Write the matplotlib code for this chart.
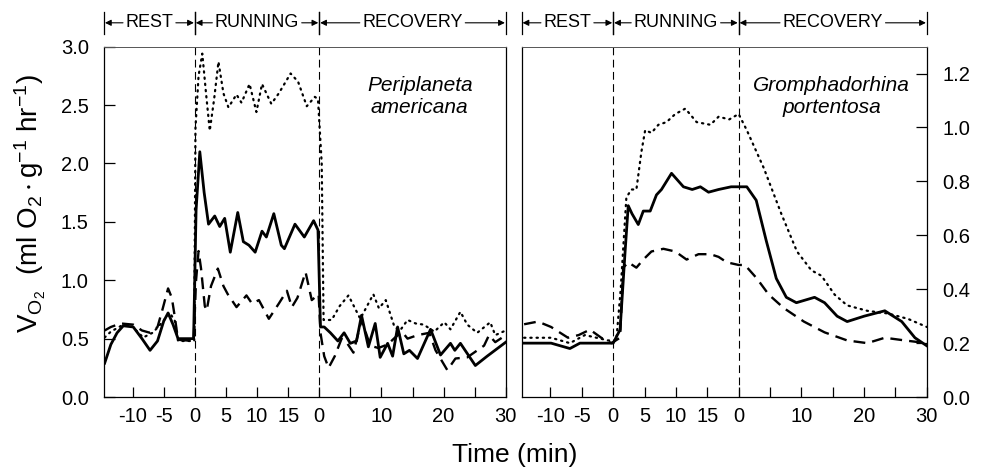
import numpy as np
import matplotlib
matplotlib.use("Agg")
from matplotlib import pyplot as plt
from matplotlib.transforms import blended_transform_factory

plt.rcParams['font.family'] = ['Liberation Sans', 'DejaVu Sans']
plt.rcParams['mathtext.fontset'] = 'custom'
plt.rcParams['mathtext.rm'] = 'Liberation Sans'
plt.rcParams['mathtext.it'] = 'Liberation Sans:italic'

# time axis is continuous: rest -> running (0-20) -> recovery (20-50)
tick_pos = [-10, -5, 0, 5, 10, 15, 20, 25, 30, 35, 40, 45, 50]
tick_lab = ['-10', '-5', '0', '5', '10', '15', '0', '', '10', '', '20', '', '30']

# Periplaneta americana
pa_solid_t = [-14.5, -13.5, -12.5, -11.5, -9.9, -8.5, -7.2, -6.0, -5.0, -4.3, -3.5, -2.7, -0.2,
              0.2, 0.8, 1.5, 2.2, 3.2, 4.0, 4.8, 5.7, 6.9, 7.8, 8.7, 9.7, 10.8, 11.5, 12.7,
              13.9, 14.4, 16.1, 17.6, 19.1, 19.8, 20.2, 20.8, 21.8, 23.0, 24.0, 25.0, 26.0,
              26.8, 27.9, 29.0, 29.8, 31.0, 31.8, 32.6, 33.6, 34.5, 35.8, 37.9, 39.5, 41.1,
              41.8, 42.7, 45.1, 47.0, 50.0]
pa_solid_v = [0.29, 0.45, 0.55, 0.61, 0.60, 0.50, 0.40, 0.48, 0.65, 0.72, 0.62, 0.50, 0.50,
              1.60, 2.10, 1.75, 1.48, 1.55, 1.46, 1.53, 1.24, 1.58, 1.33, 1.30, 1.24, 1.42, 1.37, 1.57,
              1.30, 1.27, 1.48, 1.37, 1.51, 1.43, 0.60, 0.60, 0.55, 0.48, 0.55, 0.46, 0.48,
              0.70, 0.43, 0.63, 0.34, 0.46, 0.35, 0.60, 0.37, 0.40, 0.33, 0.58, 0.36, 0.46,
              0.40, 0.46, 0.27, 0.35, 0.47]

pa_dash_t = [-14.5, -13.5, -11.9, -9.9, -8.5, -7.2, -6.0, -5.2, -4.3, -3.7, -3.2, -2.7, -0.2,
             0.2, 0.6, 1.0, 1.6, 1.9, 2.6, 3.7, 4.6, 5.3, 6.7, 7.5, 8.3, 9.2, 10.3, 11.9, 13.5,
             14.8, 15.6, 16.5, 17.8, 18.8, 19.9, 20.2, 20.8, 21.5, 22.5, 23.6, 24.5, 25.5, 26.8,
             28.2, 29.5, 31.0, 32.2, 33.3, 34.2, 35.8, 37.7, 38.7, 40.6, 41.9, 43.8, 46.5, 47.3,
             48.3, 50.0]
pa_dash_v = [0.57, 0.60, 0.63, 0.62, 0.57, 0.55, 0.60, 0.75, 0.93, 0.85, 0.68, 0.49, 0.48,
             1.00, 1.25, 1.10, 0.78, 0.74, 0.95, 1.10, 0.95, 0.88, 0.77, 0.82, 0.87, 0.80, 0.83, 0.67, 0.80,
             0.91, 0.77, 0.85, 1.07, 0.83, 0.88, 0.55, 0.35, 0.25, 0.35, 0.50, 0.46, 0.38, 0.66,
             0.44, 0.42, 0.45, 0.51, 0.56, 0.50, 0.53, 0.55, 0.40, 0.23, 0.33, 0.34, 0.44, 0.53,
             0.47, 0.53]

pa_dot_t = [-14.5, -13.5, -11.5, -10.0, -8.3, -6.8, -5.9, -4.0, -3.2, -2.7, -0.1,
            0.1, 0.6, 1.2, 1.8, 2.4, 3.1, 3.8, 4.6, 5.4, 6.7, 7.5, 8.8, 9.9, 10.8, 12.3, 13.5,
            15.4, 16.6, 18.0, 19.3, 19.8, 20.4, 20.7, 22.0, 23.3, 24.7, 26.6, 28.7, 29.6, 30.7,
            32.1, 33.0, 34.2, 35.5, 36.8, 38.5, 40.1, 41.1, 42.7, 43.8, 45.4, 47.5, 48.3, 50.0]
pa_dot_v = [0.51, 0.56, 0.62, 0.60, 0.51, 0.55, 0.60, 0.72, 0.65, 0.48, 0.48,
            2.30, 2.75, 2.94, 2.60, 2.28, 2.55, 2.87, 2.60, 2.48, 2.59, 2.52, 2.68, 2.44, 2.68, 2.51, 2.60,
            2.77, 2.70, 2.49, 2.57, 2.55, 2.00, 0.66, 0.66, 0.78, 0.87, 0.67, 0.88, 0.76, 0.83,
            0.60, 0.57, 0.66, 0.63, 0.62, 0.56, 0.64, 0.58, 0.73, 0.62, 0.55, 0.64, 0.53, 0.57]

# Gromphadorhina portentosa
gp_solid_t = [-14.2, -9.9, -6.9, -5.3, -0.8, 0.0, 1.1, 1.9, 2.4, 3.0, 4.0, 4.8, 5.9, 6.9, 7.7,
              9.3, 11.2, 12.6, 13.9, 15.2, 16.8, 18.8, 21.3, 22.8, 24.4, 26.0, 27.6, 29.2, 32.1,
              33.7, 35.7, 37.3, 40.0, 43.3, 46.0, 48.1, 50.0]
gp_solid_v = [0.20, 0.20, 0.18, 0.20, 0.20, 0.20, 0.25, 0.54, 0.71, 0.68, 0.64, 0.69, 0.69, 0.75, 0.77,
              0.83, 0.78, 0.77, 0.78, 0.76, 0.77, 0.78, 0.78, 0.73, 0.58, 0.44, 0.37, 0.35, 0.37,
              0.35, 0.30, 0.28, 0.30, 0.32, 0.28, 0.22, 0.19]

gp_dash_t = [-14.2, -12.0, -9.9, -7.2, -5.5, -3.7, -1.9, -0.3, 1.1, 1.6, 2.4, 3.7, 4.8, 6.1, 8.0,
             9.9, 11.7, 13.6, 15.5, 16.8, 18.1, 20.0, 21.0, 22.9, 24.8, 27.2, 30.4, 33.7, 37.3,
             40.5, 43.3, 46.5, 50.0]
gp_dash_v = [0.27, 0.28, 0.26, 0.22, 0.23, 0.25, 0.22, 0.20, 0.22, 0.48, 0.50, 0.48, 0.51, 0.54, 0.55,
             0.54, 0.51, 0.53, 0.53, 0.52, 0.50, 0.49, 0.49, 0.44, 0.38, 0.33, 0.28, 0.24, 0.21,
             0.20, 0.22, 0.21, 0.20]

gp_dot_t = [-14.2, -9.9, -6.9, -4.5, -0.8, 0.5, 1.2, 2.1, 2.9, 3.7, 4.5, 5.1, 6.1, 7.2, 8.5,
            9.9, 11.5, 13.3, 15.5, 16.8, 18.5, 20.0, 21.3, 24.0, 26.8, 29.3, 31.6, 33.2, 35.3,
            37.3, 40.5, 43.8, 47.0, 50.0]
gp_dot_v = [0.22, 0.22, 0.20, 0.23, 0.21, 0.21, 0.40, 0.74, 0.77, 0.77, 0.91, 0.99, 0.98, 1.01, 1.02,
            1.05, 1.07, 1.02, 1.01, 1.04, 1.03, 1.05, 0.99, 0.85, 0.68, 0.54, 0.47, 0.45, 0.38,
            0.34, 0.32, 0.31, 0.29, 0.26]

phases = [("REST", -14.6, 0), ("RUNNING", 0, 20), ("RECOVERY", 20, 50)]

fig = plt.figure(figsize=(9.86, 4.71), dpi=100)
ax1 = fig.add_axes([0.1055, 0.157, 0.4075, 0.744])
ax2 = fig.add_axes([0.529, 0.157, 0.411, 0.744])


def draw_panel(ax, solid, dash, dot, ymax, yticks, side):
    ax.plot(dot[0], dot[1], color='black', lw=1.6, linestyle=(0, (0.6, 2.2)),
            dash_capstyle='round')
    ax.plot(dash[0], dash[1], color='black', lw=1.7, linestyle=(0, (5, 3)))
    ax.plot(solid[0], solid[1], color='black', lw=2.0)
    for xv in (0, 20):
        ax.axvline(xv, color='black', lw=0.8, linestyle=(0, (7, 4)), zorder=0)
    ax.set_xlim(-14.6, 50)
    ax.set_ylim(0, ymax)
    ax.set_xticks(tick_pos)
    ax.set_xticklabels(tick_lab)
    ax.set_yticks(yticks)
    ax.set_yticklabels(['%.1f' % y for y in yticks])
    ax.tick_params(axis='x', direction='in', length=7, width=0.9, labelsize=14.5, pad=7)
    if side == 'left':
        ax.tick_params(axis='y', direction='in', length=8, width=0.9, labelsize=14.5, pad=11,
                       left=True, right=False, labelleft=True, labelright=False)
    else:
        ax.tick_params(axis='y', direction='in', length=8, width=0.9, labelsize=14.5, pad=11,
                       left=False, right=True, labelleft=False, labelright=True)
    for s in ax.spines.values():
        s.set_linewidth(0.9)
    ax.spines['top'].set_color('#555555')
    ax.spines['top'].set_linewidth(0.7)


draw_panel(ax1, (pa_solid_t, pa_solid_v), (pa_dash_t, pa_dash_v), (pa_dot_t, pa_dot_v),
           3.0, [0.0, 0.5, 1.0, 1.5, 2.0, 2.5, 3.0], 'left')
draw_panel(ax2, (gp_solid_t, gp_solid_v), (gp_dash_t, gp_dash_v), (gp_dot_t, gp_dot_v),
           1.3, [0.0, 0.2, 0.4, 0.6, 0.8, 1.0, 1.2], 'right')

ax1.text(0.786, 0.858, "Periplaneta\namericana", transform=ax1.transAxes, style='italic',
         fontsize=15, ha='center', va='center', linespacing=1.15)
ax2.text(0.765, 0.858, "Gromphadorhina\nportentosa", transform=ax2.transAxes, style='italic',
         fontsize=15, ha='center', va='center', linespacing=1.15)

# phase header above each panel
fig.canvas.draw()
renderer = fig.canvas.get_renderer()
for ax in (ax1, ax2):
    tr = blended_transform_factory(ax.transData, ax.transAxes)
    for name, a, b in phases:
        for xv in (a, b):
            ax.plot([xv, xv], [1.035, 1.1], transform=tr, color='black', lw=0.9, clip_on=False)
        t = ax.text((a + b) / 2, 1.068, name, transform=tr, fontsize=13, ha='center',
                    va='center')
        bb = t.get_window_extent(renderer)
        x0 = ax.transData.inverted().transform((bb.x0, 0))[0]
        x1 = ax.transData.inverted().transform((bb.x1, 0))[0]
        for start, end in ((x0 - 0.4, a + 0.15), (x1 + 0.4, b - 0.15)):
            ax.annotate("", xy=(end, 1.068), xytext=(start, 1.068), xycoords=tr, textcoords=tr,
                        arrowprops=dict(arrowstyle='-|>', lw=0.8, color='black',
                                        mutation_scale=9, shrinkA=0, shrinkB=0))

fig.text(0.031, 0.568, r'$\mathregular{V_{O_2}\ \ (ml\ O_2 \cdot g^{-1}\ hr^{-1})}$',
         rotation=90, fontsize=20, ha='center', va='center')
fig.text(0.522, 0.034, "Time (min)", fontsize=19, ha='center', va='center')

fig.savefig("out.png", dpi=100)
